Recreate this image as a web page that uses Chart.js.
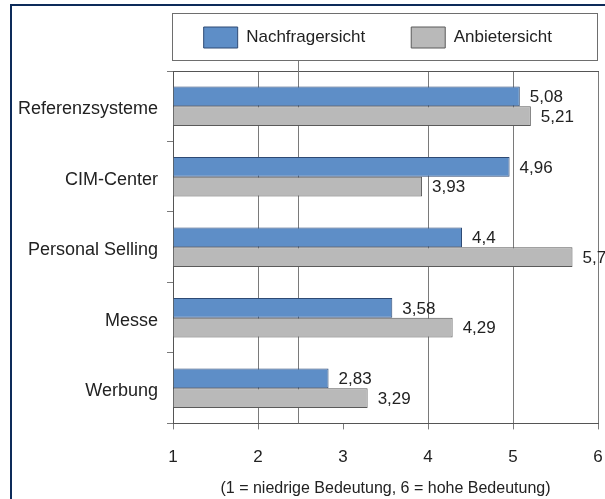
<!DOCTYPE html>
<html>
<head>
<meta charset="utf-8">
<script src="https://cdn.jsdelivr.net/npm/chart.js@4/dist/chart.umd.min.js"></script>
<style>
  html, body { margin: 0; padding: 0; background: #ffffff; width: 605px; height: 499px; overflow: hidden; position: relative; }
  #frame { position: absolute; left: 10px; top: 4px; width: 700px; height: 600px; border-left: 2px solid #0d2b5a; border-top: 2px solid #0d2b5a; z-index: 2; pointer-events: none; }
  #c { position: absolute; left: 0; top: -19px; }
</style>
</head>
<body>
<div id="frame"></div>
<canvas id="c" width="640" height="517"></canvas>
<script>
// ---- data ----
const categories = ['Referenzsysteme', 'CIM-Center', 'Personal Selling', 'Messe', 'Werbung'];
const seriesNames = ['Nachfragersicht', 'Anbietersicht'];
const nachfragerValues = [5.08, 4.96, 4.4, 3.58, 2.83];
const anbieterValues = [5.21, 3.93, 5.7, 4.29, 3.29];
const xMin = 1;
const xMax = 6;
const xStep = 1;
const axisTitle = '(1 = niedrige Bedeutung, 6 = hohe Bedeutung)';
const hiddenGridValue = 3;      // the reference shows no grid line at 3 inside the plot
const strayGridValue = 2.47;    // ...but an extra grid line here

const FONT = "'Liberation Sans', Arial, sans-serif";
const TEXT = '#222222';
const GRID = '#7a7a7a';

const fmt = v => String(v).replace('.', ',');

// frame around the legend, derived from the legend's own layout
const legendFrame = {
  id: 'legendFrame',
  afterDraw(chart) {
    const lg = chart.legend;
    if (!lg || !lg.legendHitBoxes || !lg.legendHitBoxes.length) return;
    const hb = lg.legendHitBoxes[0];
    const ca = chart.chartArea;
    const ctx = chart.ctx;
    ctx.save();
    ctx.strokeStyle = '#6e6e6e';
    ctx.lineWidth = 1;
    const top = Math.round(hb.top - 14) + 0.5;
    const bottom = Math.round(hb.top + hb.height + 12) + 0.5;
    ctx.strokeRect(Math.round(ca.left) - 0.5, top, Math.round(ca.right - ca.left), bottom - top);
    ctx.restore();
  }
};

const strayLine = {
  id: 'strayLine',
  beforeDatasetsDraw(chart) {
    const hb = chart.legend.legendHitBoxes[0];
    const x = Math.round(chart.scales.x.getPixelForValue(strayGridValue)) + 0.5;
    const ctx = chart.ctx;
    ctx.save();
    ctx.strokeStyle = GRID;
    ctx.lineWidth = 1;
    ctx.beginPath();
    ctx.moveTo(x, Math.round(hb.top + hb.height + 12) + 1);
    ctx.lineTo(x, chart.chartArea.bottom);
    ctx.stroke();
    ctx.restore();
  }
};

const valueLabels = {
  id: 'valueLabels',
  afterDatasetsDraw(chart) {
    const ctx = chart.ctx;
    ctx.save();
    ctx.font = '17px ' + FONT;
    ctx.fillStyle = TEXT;
    ctx.textAlign = 'left';
    ctx.textBaseline = 'middle';
    chart.data.datasets.forEach((ds, i) => {
      const meta = chart.getDatasetMeta(i);
      meta.data.forEach((bar, j) => {
        ctx.fillText(fmt(ds.data[j]), bar.x + 10, bar.y + 1);
      });
    });
    ctx.restore();
  }
};

new Chart(document.getElementById('c'), {
  type: 'bar',
  data: {
    labels: categories,
    datasets: [
      { label: seriesNames[0], data: nachfragerValues, backgroundColor: '#5e8ec7', borderColor: '#2e4a74', borderWidth: 1, base: xMin },
      { label: seriesNames[1], data: anbieterValues, backgroundColor: '#b9b9b9', borderColor: '#5a5a5a', borderWidth: 1, base: xMin }
    ]
  },
  options: {
    indexAxis: 'y',
    responsive: false,
    animation: false,
    devicePixelRatio: 1,
    categoryPercentage: 0.56,
    barPercentage: 1.0,
    layout: { padding: { left: 12, right: 42, top: 0, bottom: 0 } },
    plugins: {
      legend: {
        position: 'top',
        fullSize: true,
        align: 'end',
        labels: { boxWidth: 34, boxHeight: 21, padding: 46, color: TEXT, font: { family: FONT, size: 17 } }
      },
      tooltip: { enabled: false },
      title: { display: false }
    },
    scales: {
      x: {
        type: 'linear', position: 'bottom', min: xMin, max: xMax,
        ticks: { stepSize: xStep, padding: 18, color: TEXT, font: { family: FONT, size: 17 }, callback: v => fmt(v) },
        grid: {
          color: ctx => (ctx.tick && ctx.tick.value === hiddenGridValue) ? 'rgba(0,0,0,0)' : GRID,
          tickColor: GRID, tickLength: 6, lineWidth: 1
        },
        border: { display: true, color: '#555555', width: 1 },
        title: { display: true, text: axisTitle, color: TEXT, font: { family: FONT, size: 16 }, padding: { top: -7, bottom: 0 } }
      },
      x2: {
        type: 'linear', position: 'top', min: xMin, max: xMax,
        ticks: { display: false },
        grid: { display: false, drawTicks: false },
        border: { display: true, color: '#555555', width: 1 },
        title: { display: true, text: '', font: { size: 1, lineHeight: 1 }, padding: { top: 12, bottom: 0 } }
      },
      y: {
        type: 'category', position: 'left',
        afterFit: s => { s.width = 161; },
        ticks: { padding: 9, labelOffset: 3, color: TEXT, font: { family: FONT, size: 18 } },
        grid: { offset: true, drawOnChartArea: false, drawTicks: true, tickLength: 6, tickColor: GRID },
        border: { display: true, color: '#555555', width: 1 }
      }
    }
  },
  plugins: [strayLine, valueLabels, legendFrame]
});
</script>
</body>
</html>
